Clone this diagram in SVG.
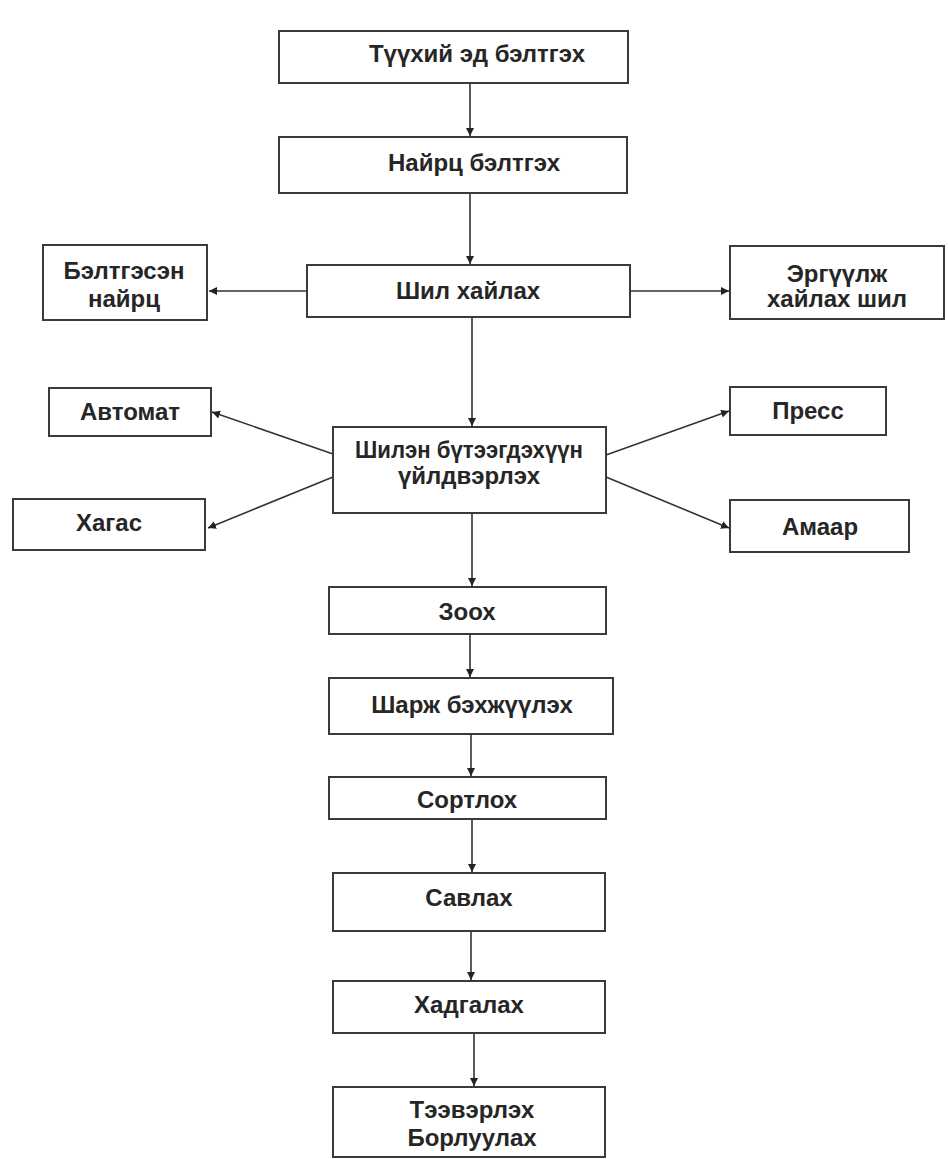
<svg xmlns="http://www.w3.org/2000/svg" width="948" height="1159" viewBox="0 0 948 1159">
<defs>
<marker id="ah" viewBox="0 0 10 10" refX="10" refY="5" markerWidth="8" markerHeight="8" markerUnits="userSpaceOnUse" orient="auto">
<path d="M0,0 L10,5 L0,10 z" fill="#222"/>
</marker>
<style>
.box{fill:#fff;stroke:#3a3a3a;stroke-width:2}
.t{font-family:"Liberation Sans",Arial,sans-serif;font-weight:bold;font-size:24px;fill:#262626;text-anchor:middle}
.c{stroke:#333;stroke-width:1.6;fill:none;marker-end:url(#ah)}
</style>
</defs>
<rect width="948" height="1159" fill="#fff"/>
<g id="connectors">
<line class="c" x1="470" y1="84" x2="470" y2="136"/>
<line class="c" x1="470" y1="193" x2="470" y2="264"/>
<line class="c" x1="307" y1="291" x2="209" y2="291"/>
<line class="c" x1="630" y1="291" x2="729" y2="291"/>
<line class="c" x1="472" y1="317" x2="472" y2="426"/>
<line class="c" x1="333" y1="454" x2="212" y2="412"/>
<line class="c" x1="333" y1="477" x2="208" y2="528"/>
<line class="c" x1="606" y1="455" x2="729" y2="411"/>
<line class="c" x1="606" y1="477" x2="729" y2="528"/>
<line class="c" x1="472" y1="513" x2="472" y2="586"/>
<line class="c" x1="470" y1="634" x2="470" y2="677"/>
<line class="c" x1="471" y1="734" x2="471" y2="776"/>
<line class="c" x1="472" y1="819" x2="472" y2="872"/>
<line class="c" x1="471" y1="931" x2="471" y2="980"/>
<line class="c" x1="474" y1="1033" x2="474" y2="1086"/>
</g>
<g id="n1"><rect class="box" x="279" y="31" width="349" height="52"/><text class="t" x="477" y="62">Түүхий эд бэлтгэх</text></g>
<g id="n2"><rect class="box" x="279" y="137" width="348" height="56"/><text class="t" x="474" y="171">Найрц бэлтгэх</text></g>
<g id="n3"><rect class="box" x="307" y="265" width="323" height="52"/><text class="t" x="468" y="299">Шил хайлах</text></g>
<g id="n4"><rect class="box" x="43" y="245" width="164" height="75"/><text class="t" x="124" y="279">Бэлтгэсэн</text><text class="t" x="124" y="307">найрц</text></g>
<g id="n5"><rect class="box" x="730" y="246" width="214" height="73"/><text class="t" x="837" y="282">Эргүүлж</text><text class="t" x="837" y="307">хайлах шил</text></g>
<g id="n6"><rect class="box" x="333" y="427" width="273" height="86"/><text class="t" x="469" y="458" textLength="228" lengthAdjust="spacingAndGlyphs">Шилэн бүтээгдэхүүн</text><text class="t" x="469" y="484">үйлдвэрлэх</text></g>
<g id="n7"><rect class="box" x="49" y="388" width="162" height="48"/><text class="t" x="130" y="420">Автомат</text></g>
<g id="n8"><rect class="box" x="13" y="499" width="192" height="51"/><text class="t" x="109" y="531">Хагас</text></g>
<g id="n9"><rect class="box" x="730" y="387" width="156" height="48"/><text class="t" x="808" y="419">Пресс</text></g>
<g id="n10"><rect class="box" x="730" y="500" width="179" height="52"/><text class="t" x="820" y="535">Амаар</text></g>
<g id="n11"><rect class="box" x="329" y="587" width="277" height="47"/><text class="t" x="467" y="620">Зоох</text></g>
<g id="n12"><rect class="box" x="329" y="678" width="284" height="56"/><text class="t" x="472" y="713">Шарж бэхжүүлэх</text></g>
<g id="n13"><rect class="box" x="329" y="777" width="277" height="42"/><text class="t" x="467" y="808">Сортлох</text></g>
<g id="n14"><rect class="box" x="333" y="873" width="272" height="58"/><text class="t" x="469" y="906">Савлах</text></g>
<g id="n15"><rect class="box" x="333" y="981" width="272" height="52"/><text class="t" x="469" y="1013">Хадгалах</text></g>
<g id="n16"><rect class="box" x="333" y="1087" width="272" height="70"/><text class="t" x="472" y="1118">Тээвэрлэх</text><text class="t" x="472" y="1146">Борлуулах</text></g>
</svg>
